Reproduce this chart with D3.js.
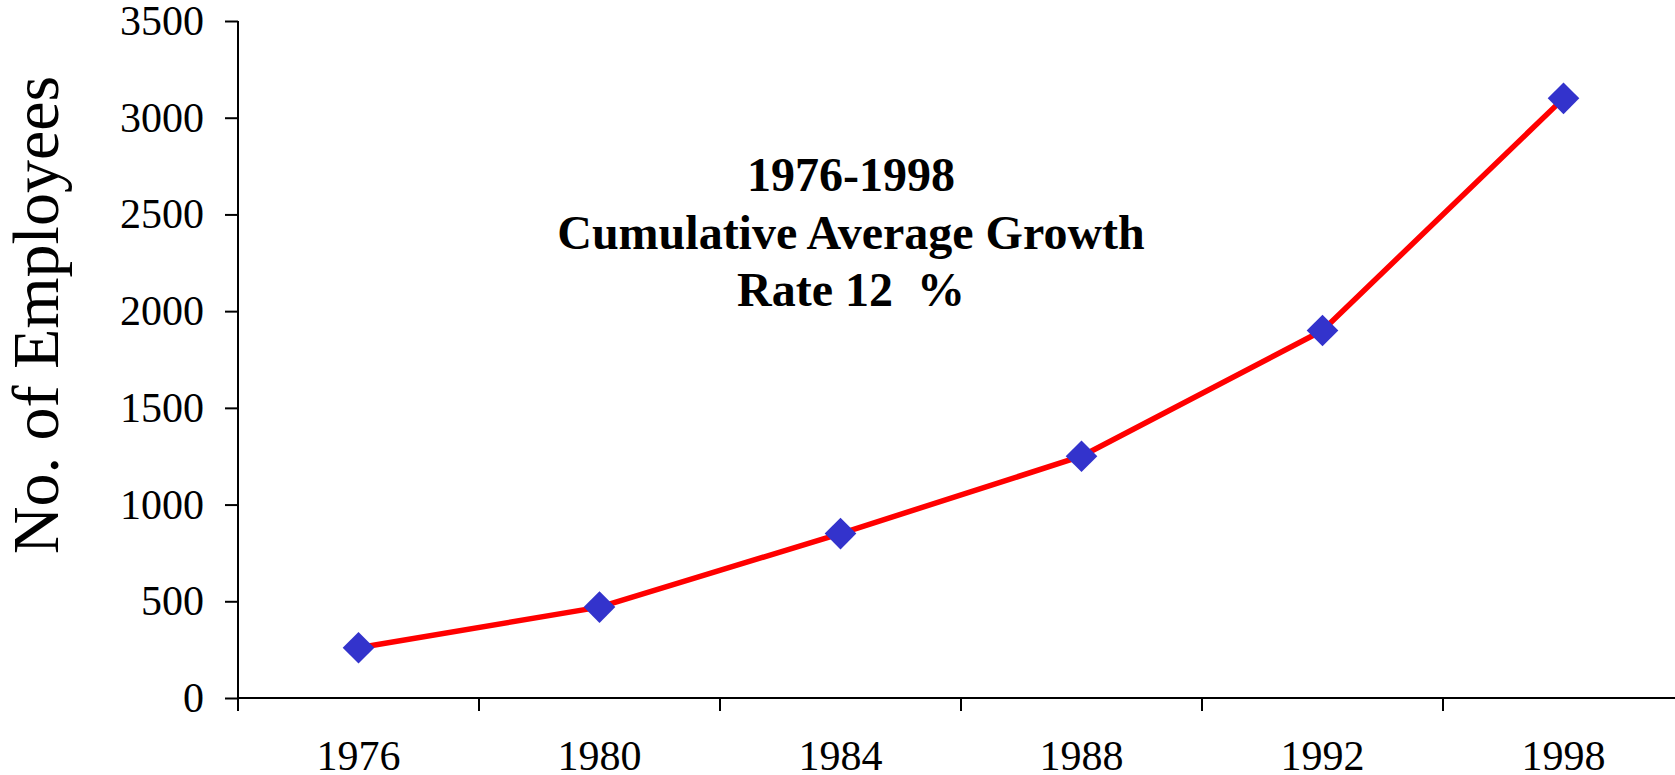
<!DOCTYPE html>
<html>
<head>
<meta charset="utf-8">
<script src="https://cdn.jsdelivr.net/npm/d3@7"></script>
<style>
  html, body { margin: 0; padding: 0; background: #fff; overflow: hidden; }
  svg { display: block; font-family: "Liberation Serif", "Times New Roman", serif; }
</style>
</head>
<body>
<div id="chart"></div>
<script>
const years = ["1976", "1980", "1984", "1988", "1992", "1998"];
const employees = [260, 470, 850, 1250, 1900, 3100];
const yTicks = [0, 500, 1000, 1500, 2000, 2500, 3000, 3500];
const noteLines = ["1976-1998", "Cumulative Average Growth", "Rate 12  %"];

const width = 1675, height = 775;
const plotLeft = 238, plotTop = 21, plotBottom = 698, bandW = 241;

const svg = d3.select("#chart").append("svg")
    .attr("width", width)
    .attr("height", height);

const x = d3.scaleBand()
    .domain(years)
    .range([plotLeft, plotLeft + bandW * years.length])
    .padding(0);

const y = d3.scaleLinear()
    .domain([0, 3500])
    .range([plotBottom, plotTop]);

// y axis
const yAxis = svg.append("g")
    .attr("transform", `translate(${plotLeft},0)`)
    .call(d3.axisLeft(y).tickValues(yTicks).tickSize(13).tickPadding(21).tickFormat(d3.format("d")));
yAxis.select(".domain").attr("d", `M0,${plotTop}V${plotBottom}`);
yAxis.selectAll("line, path").attr("stroke", "#000").attr("stroke-width", 2);
yAxis.selectAll("text")
    .attr("font-family", "Liberation Serif, serif")
    .attr("font-size", 42)
    .attr("fill", "#000");

// x axis: ticks sit between categories
const xAxis = svg.append("g")
    .attr("transform", `translate(0,${plotBottom})`);
xAxis.append("line")
    .attr("x1", plotLeft).attr("x2", width)
    .attr("stroke", "#000").attr("stroke-width", 2);
xAxis.selectAll("line.tick")
    .data(years)
    .join("line")
    .attr("class", "tick")
    .attr("x1", d => x(d)).attr("x2", d => x(d))
    .attr("y1", 0).attr("y2", 13)
    .attr("stroke", "#000").attr("stroke-width", 2);
xAxis.selectAll("text")
    .data(years)
    .join("text")
    .attr("x", d => x(d) + x.bandwidth() / 2)
    .attr("y", 72)
    .attr("text-anchor", "middle")
    .attr("font-size", 42)
    .attr("fill", "#000")
    .text(d => d);

// y axis title
svg.append("text")
    .attr("transform", `translate(58,315) rotate(-90)`)
    .attr("text-anchor", "middle")
    .attr("font-size", 66)
    .attr("fill", "#000")
    .text("No. of Employees");

// line + markers
const pts = years.map((d, i) => [x(d) + x.bandwidth() / 2, y(employees[i])]);

svg.append("path")
    .datum(pts)
    .attr("fill", "none")
    .attr("stroke", "#ff0000")
    .attr("stroke-width", 5.5)
    .attr("stroke-linejoin", "round")
    .attr("d", d3.line());

svg.append("g")
    .selectAll("path")
    .data(pts)
    .join("path")
    .attr("transform", d => `translate(${d[0]},${d[1]}) rotate(45)`)
    .attr("d", d3.symbol(d3.symbolSquare, 500))
    .attr("fill", "#3333cc");

// annotation
svg.append("g")
    .selectAll("text")
    .data(noteLines)
    .join("text")
    .attr("x", 851)
    .attr("y", (d, i) => 191 + i * 57.5)
    .attr("text-anchor", "middle")
    .attr("font-size", 48)
    .attr("font-weight", "bold")
    .attr("fill", "#000")
    .style("white-space", "pre")
    .text(d => d);
</script>
</body>
</html>
